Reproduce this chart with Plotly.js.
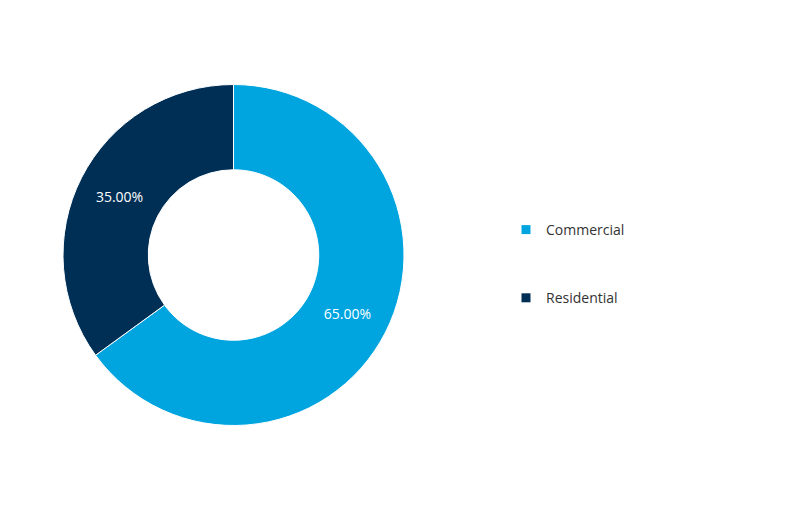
<!DOCTYPE html>
<html>
<head>
<meta charset="utf-8">
<script src="https://cdn.plot.ly/plotly-3.0.1.min.js"></script>
<style>
  html, body { margin: 0; padding: 0; background: #fff; }
  #myDiv { width: 787px; height: 514px; }
</style>
</head>
<body>
<div id="myDiv"></div>
<script>
// chart data
var categories = ['Commercial', 'Residential'];
var shares = [65, 35];
var colors = ['#00A5E0', '#002F56'];

var W = 787, H = 514;

// the donut itself, legend drawn by proxy traces below so the gap can be set
var data = [{
    type: 'pie',
    labels: categories,
    values: shares,
    hole: 0.5,
    sort: false,
    direction: 'clockwise',
    rotation: 0,
    marker: { colors: colors, line: { color: '#ffffff', width: 1 } },
    texttemplate: '%{percent:.2%}',
    textposition: 'inside',
    insidetextorientation: 'horizontal',
    textfont: { color: '#ffffff', size: 14, family: 'Open Sans, sans-serif' },
    domain: { x: [63 / W, 404 / W], y: [1 - 425.5 / H, 1 - 84.5 / H] },
    showlegend: false,
    hoverinfo: 'label+percent'
}];

// legend entries, one group each
for (var i = 0; i < categories.length; i++) {
    data.push({
        type: 'scatter',
        x: [null], y: [null],
        mode: 'markers',
        name: categories[i],
        legendgroup: 'g' + i,
        marker: { symbol: 'square', size: 9, color: colors[i] },
        hoverinfo: 'skip'
    });
}

var layout = {
    width: W,
    height: H,
    margin: { l: 0, r: 0, t: 0, b: 0 },
    paper_bgcolor: '#ffffff',
    plot_bgcolor: '#ffffff',
    xaxis: { visible: false },
    yaxis: { visible: false },
    showlegend: true,
    legend: {
        x: 506 / W,
        y: 1 - 214 / H,
        xanchor: 'left',
        yanchor: 'top',
        traceorder: 'grouped',
        tracegroupgap: 47,
        font: { size: 14, color: '#333333', family: 'Open Sans, sans-serif' },
        bgcolor: 'rgba(0,0,0,0)'
    }
};

Plotly.newPlot('myDiv', data, layout, { displayModeBar: false, staticPlot: true });
</script>
</body>
</html>
